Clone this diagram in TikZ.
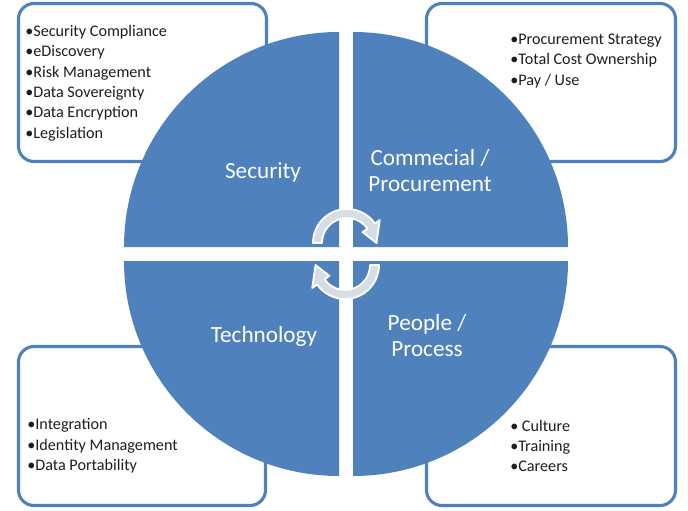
\documentclass[tikz,border=0pt]{standalone}
\usepackage{fontspec}
\setmainfont{Carlito}
\usepackage{xcolor}
\usepackage{tikz}
\definecolor{quadblue}{RGB}{79,129,189}
\definecolor{boxline}{RGB}{79,129,189}
\definecolor{arrowfill}{RGB}{214,221,231}
\definecolor{listtext}{RGB}{30,30,30}

\begin{document}
\begin{tikzpicture}[x=0.025cm, y=-0.025cm,
        infobox/.style={draw=boxline, line width=2.2pt, rounded corners=11pt, fill=white},
        quad/.style={fill=quadblue},
        quadlabel/.style={text=white, font=\fontsize{16.5}{18.5}\selectfont, align=center, inner sep=0pt},
        bullets/.style={text=listtext, font=\fontsize{11.5}{14.5}\selectfont, align=left, anchor=west, inner sep=0pt},
        cyclearrow/.style={fill=arrowfill, draw=white, line width=1.3pt, line join=round}
    ]
        \useasboundingbox (0,0) rectangle (688,511);

        % Side boxes
        \draw[infobox] (18.5,3.5) rectangle (266.5,161.5);
        \draw[infobox] (426.5,3.5) rectangle (675.5,161.5);
        \draw[infobox] (18.5,346.5) rectangle (265.5,505.5);
        \draw[infobox] (426.5,346.5) rectangle (675.5,505.5);

        % Quadrants
        \fill[quad] (339,247) -- ++(-180:215) arc[start angle=-180, end angle=-90, radius=215] -- cycle;
        \fill[quad] (353,247) -- ++(-90:215) arc[start angle=-90, end angle=0, radius=215] -- cycle;
        \fill[quad] (339,261) -- ++(90:215) arc[start angle=90, end angle=180, radius=215] -- cycle;
        \fill[quad] (353,261) -- ++(0:215) arc[start angle=0, end angle=90, radius=215] -- cycle;

        % Cycle arrows
        \begin{scope}[shift={(347,243)}]
            \draw[cyclearrow] (-180:34) arc[start angle=-180, end angle=-35, radius=34]
                -- (-35:40) -- (0:29.5) -- (-35:19) -- (-35:25)
                arc[start angle=-35, end angle=-180, radius=25] -- cycle;
        \end{scope}
        \begin{scope}[shift={(345,265)}]
            \draw[cyclearrow] (0:34) arc[start angle=0, end angle=145, radius=34]
                -- (145:40) -- (180:29.5) -- (145:19) -- (145:25)
                arc[start angle=145, end angle=0, radius=25] -- cycle;
        \end{scope}

        % Labels
        \node[quadlabel] (security) at (263,172) {Security};
        \node[quadlabel] (commercial) at (430,171) {Commecial /\\Procurement};
        \node[quadlabel] (technology) at (264,336) {Technology};
        \node[quadlabel] (people) at (427,336) {People /\\Process};

        % Lists
        \node[bullets] (seclist) at (25,83) {•Security Compliance\\•eDiscovery\\•Risk Management\\•Data Sovereignty\\•Data Encryption\\•Legislation};
        \node[bullets] (comlist) at (510,61) {•Procurement Strategy\\•Total Cost Ownership\\•Pay / Use};
        \node[bullets] (techlist) at (27,446) {•Integration\\•Identity Management\\•Data Portability};
        \node[bullets] (peoplist) at (510,446) {• Culture\\•Training\\•Careers};

    \end{tikzpicture}
\end{document}
